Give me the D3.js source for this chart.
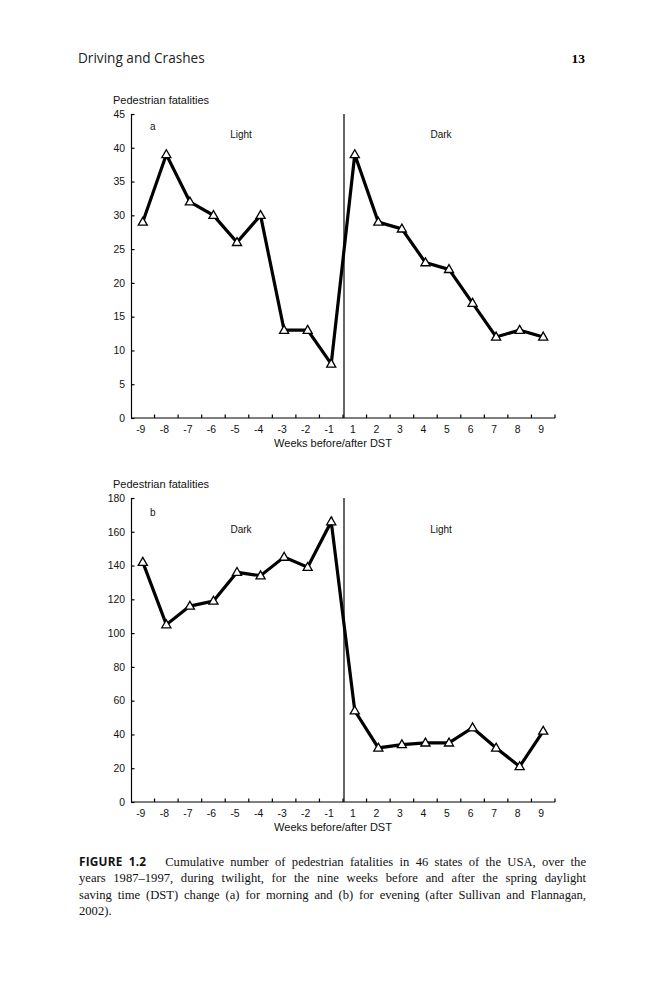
<!DOCTYPE html>
<html lang="en">
<head>
    <meta charset="UTF-8">
    <title>Figure 1.2</title>
    <script src="https://d3js.org/d3.v7.min.js"></script>
    <style>
        body { margin: 0; background: #fff; }
        svg { display: block; position: absolute; left: 0; top: 0; }
        .axis path, .axis line { stroke: #000; stroke-width: 1.2; }
        .axis text { font-family: "Liberation Sans", Arial, sans-serif; font-size: 10.4px; fill: #111; }
        .lbl { font-family: "Liberation Sans", Arial, sans-serif; font-size: 10px; fill: #111; }
        .caption {
            position: absolute; left: 79px; top: 853px; width: 507px;
            font-family: "Liberation Serif", "Times New Roman", serif;
            font-size: 12.6px; line-height: 16.3px; color: #111;
        }
        .caption div { text-align: justify; text-align-last: justify; white-space: nowrap; }
        .caption div.last { text-align-last: left; }
        .caption b { font-family: "Open Sans", sans-serif; font-size: 11.8px; letter-spacing: 0.2px; }
    </style>
</head>
<body>
<script>
    const width = 666;
    const height = 1000;

    // weeks before (-) / after (+) the DST change
    const weeks = [-9, -8, -7, -6, -5, -4, -3, -2, -1, 1, 2, 3, 4, 5, 6, 7, 8, 9];

    // (a) morning twilight
    const fatalitiesA = [29, 39, 32, 30, 26, 30, 13, 13, 8, 39, 29, 28, 23, 22, 17, 12, 13, 12];
    const yTicksA = [0, 5, 10, 15, 20, 25, 30, 35, 40, 45];

    // (b) evening twilight
    const fatalitiesB = [142, 105, 116, 119, 136, 134, 145, 139, 166, 54, 32, 34, 35, 35, 44, 32, 21, 42];
    const yTicksB = [0, 20, 40, 60, 80, 100, 120, 140, 160, 180];

    const captionLines = [
        "Cumulative number of pedestrian fatalities in 46 states of the USA, over the",
        "years 1987\u20131997, during twilight, for the nine weeks before and after the spring daylight",
        "saving time (DST) change (a) for morning and (b) for evening (after Sullivan and Flannagan,",
        "2002)."
    ];

    const svg = d3.select("body").append("svg")
            .attr("width", width).attr("height", height);

    svg.append("rect").attr("width", width).attr("height", height).attr("fill", "#fff");

    // running page header
    svg.append("text")
        .attr("x", 78).attr("y", 63)
        .style("font-family", "'Open Sans', sans-serif")
        .style("font-size", "13.6px")
        .style("fill", "#222")
        .text("Driving and Crashes");
    svg.append("text")
        .attr("x", 585).attr("y", 63)
        .attr("text-anchor", "end")
        .style("font-family", "'Liberation Serif', serif")
        .style("font-weight", "bold")
        .style("font-size", "13.5px")
        .text("13");

    function panel(opts) {
        const g = svg.append("g");

        const x = d3.scaleBand().domain(weeks).range([131, 555]).padding(0);
        const y = d3.scaleLinear().domain([0, opts.yMax]).range([opts.bottom, opts.bottom - 304]);

        // y axis, ticks pointing inward
        g.append("g")
            .attr("class", "axis")
            .attr("transform", `translate(${x.range()[0]},0)`)
            .call(d3.axisLeft(y).tickValues(opts.yTicks).tickSizeInner(-3.5).tickSizeOuter(0).tickPadding(6))
            .call(a => a.select(".domain").attr("d", `M0.5,${y(opts.yMax)}V${y(0)}`));

        // x axis labels
        g.append("g")
            .attr("class", "axis")
            .attr("transform", `translate(-2,${opts.bottom})`)
            .call(d3.axisBottom(x).tickSize(0).tickPadding(8))
            .call(a => a.select(".domain").remove());

        // x axis line and category boundary ticks
        g.append("line")
            .attr("x1", x.range()[0]).attr("x2", x.range()[1])
            .attr("y1", opts.bottom).attr("y2", opts.bottom)
            .attr("stroke", "#000").attr("stroke-width", 1.2);
        g.selectAll("line.xtick")
            .data(weeks)
            .enter()
            .append("line")
            .attr("class", "xtick")
            .attr("x1", d => x(d) + x.bandwidth()).attr("x2", d => x(d) + x.bandwidth())
            .attr("y1", opts.bottom).attr("y2", opts.bottom - 3.5)
            .attr("stroke", "#000").attr("stroke-width", 1.2);

        // DST change marker
        g.append("line")
            .attr("x1", x(1) + 1).attr("x2", x(1) + 1)
            .attr("y1", y(opts.yMax)).attr("y2", opts.bottom)
            .attr("stroke", "#000").attr("stroke-width", 1.2);

        const cx = d => x(d) + x.bandwidth() / 2;
        const pts = weeks.map((w, i) => [cx(w), y(opts.values[i])]);

        g.append("path")
            .datum(pts)
            .attr("fill", "none")
            .attr("stroke", "#000")
            .attr("stroke-width", 3.2)
            .attr("stroke-linejoin", "miter")
            .attr("d", d3.line());

        g.selectAll("path.mark")
            .data(pts)
            .enter()
            .append("path")
            .attr("class", "mark")
            .attr("transform", d => `translate(${d[0]},${d[1] + 0.5})`)
            .attr("d", d3.symbol(d3.symbolTriangle, 36))
            .attr("fill", "#fff")
            .attr("stroke", "#000")
            .attr("stroke-width", 1.3);

        // texts
        g.append("text").attr("class", "lbl")
            .attr("x", 113).attr("y", y(opts.yMax) - 10)
            .style("font-size", "11px")
            .text("Pedestrian fatalities");
        g.append("text").attr("class", "lbl")
            .attr("x", 150).attr("y", opts.letterY)
            .text(opts.letter);
        g.append("text").attr("class", "lbl")
            .attr("x", 241).attr("y", opts.zoneY).attr("text-anchor", "middle")
            .text(opts.before);
        g.append("text").attr("class", "lbl")
            .attr("x", 441).attr("y", opts.zoneY).attr("text-anchor", "middle")
            .text(opts.after);
        g.append("text").attr("class", "lbl")
            .attr("x", 333).attr("y", opts.bottom + 29).attr("text-anchor", "middle")
            .style("font-size", "11px")
            .text("Weeks before/after DST");
    }

    panel({ values: fatalitiesA, yTicks: yTicksA, yMax: 45, bottom: 418,
            letter: "a", letterY: 130, zoneY: 138, before: "Light", after: "Dark" });
    panel({ values: fatalitiesB, yTicks: yTicksB, yMax: 180, bottom: 802,
            letter: "b", letterY: 516, zoneY: 533, before: "Dark", after: "Light" });

    // caption
    const cap = d3.select("body").append("div").attr("class", "caption");
    captionLines.forEach((t, i) => {
        const line = cap.append("div").classed("last", i === captionLines.length - 1);
        if (i === 0) {
            line.append("b").text("FIGURE 1.2");
            line.append("span").html("&nbsp;&nbsp;&nbsp;" + t);
        } else {
            line.text(t);
        }
    });
</script>

</body>
</html>
